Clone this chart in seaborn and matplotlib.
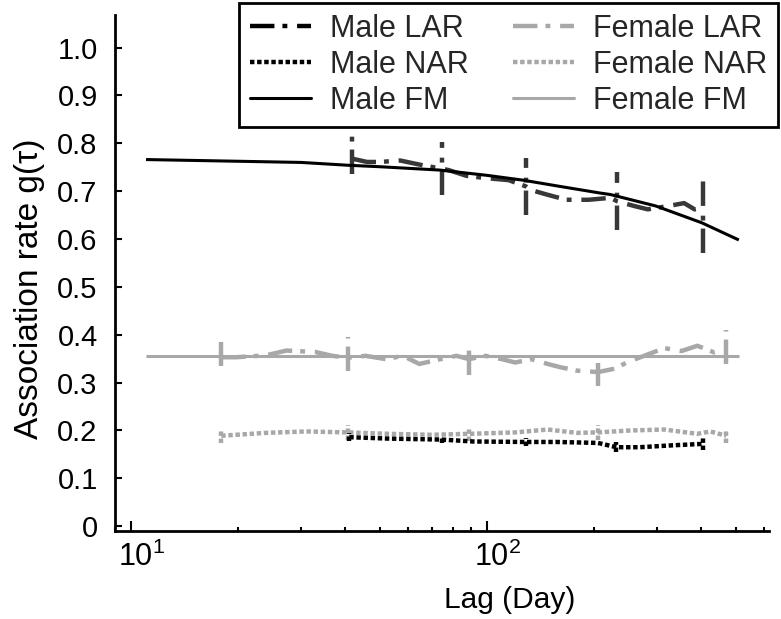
import numpy as np
import pandas as pd
import matplotlib
matplotlib.use("Agg")
import matplotlib.pyplot as plt
import matplotlib.transforms as mtransforms
import seaborn as sns
from matplotlib.lines import Line2D
from matplotlib.ticker import LogLocator, FixedLocator, FixedFormatter, NullFormatter

# ---------------- data ----------------
male_lar_lag = [41.7, 46, 50, 57, 66, 74.5, 78, 87.5, 100, 115, 128.5, 132, 147, 167,
                193, 222, 232, 259, 283, 323, 358, 383, 404]
male_lar_val = [0.768, 0.761, 0.761, 0.764, 0.754, 0.747, 0.744, 0.732, 0.727, 0.723,
                0.710, 0.703, 0.693, 0.682, 0.682, 0.686, 0.679, 0.669, 0.662, 0.669,
                0.675, 0.662, 0.665]
male_lar_err_lag = [41.7, 74.5, 128.5, 232, 404]
male_lar_err_val = [0.775, 0.747, 0.710, 0.679, 0.650]
male_lar_err = [0.040, 0.055, 0.060, 0.060, 0.080]

female_lar_lag = [17.9, 19.7, 23.9, 27.3, 32.9, 36.7, 40.6, 45.5, 52, 58, 64.5, 74, 82,
                  89, 99, 110, 120, 133, 148, 161, 179, 205, 228, 247, 283, 315, 352,
                  390, 435, 470]
female_lar_val = [0.353, 0.353, 0.357, 0.367, 0.364, 0.356, 0.352, 0.356, 0.349, 0.356,
                  0.339, 0.349, 0.356, 0.349, 0.356, 0.349, 0.342, 0.349, 0.339, 0.332,
                  0.325, 0.322, 0.329, 0.342, 0.359, 0.372, 0.366, 0.377, 0.363, 0.369]
female_lar_err_lag = [17.9, 40.6, 89, 205, 470]
female_lar_err_val = [0.360, 0.360, 0.345, 0.317, 0.374]
female_lar_err = [0.025, 0.035, 0.030, 0.025, 0.035]

male_nar_lag = [41, 53, 74.5, 91.5, 128.6, 157, 205, 231, 268, 332, 404]
male_nar_val = [0.186, 0.183, 0.181, 0.177, 0.176, 0.176, 0.174, 0.165, 0.165, 0.169, 0.172]
male_nar_err_lag = [41, 74.5, 128.6, 231, 404]
male_nar_err_val = [0.186, 0.181, 0.176, 0.165, 0.172]
male_nar_err = [0.008, 0.008, 0.008, 0.010, 0.012]

female_nar_lag = [17.9, 23.9, 31, 40.6, 53, 70, 89, 120, 148, 179, 205, 253, 315, 390, 424, 470]
female_nar_val = [0.189, 0.195, 0.198, 0.196, 0.193, 0.191, 0.193, 0.196, 0.202, 0.195,
                  0.196, 0.200, 0.202, 0.193, 0.198, 0.189]
female_nar_err_lag = [17.9, 40.6, 89, 205, 470]
female_nar_err_val = [0.189, 0.196, 0.193, 0.196, 0.189]
female_nar_err = [0.015, 0.015, 0.015, 0.015, 0.015]

male_fm_lag = [11, 18.2, 30, 40.9, 50, 73.7, 100, 126, 160, 208, 222, 298, 401, 510]
male_fm_val = [0.766, 0.763, 0.760, 0.754, 0.751, 0.744, 0.733, 0.723, 0.710, 0.696,
               0.693, 0.669, 0.634, 0.598]

female_fm_lag = [11, 510]
female_fm_val = [0.355, 0.355]

y_ticks = [0, 0.1, 0.2, 0.3, 0.4, 0.5, 0.6, 0.7, 0.8, 0.9, 1.0]
y_tick_labels = ["0", "0.1", "0.2", "0.3", "0.4", "0.5", "0.6", "0.7", "0.8", "0.9", "1.0"]
x_ticks = [10, 100]
x_tick_labels = ["$\\mathregular{10^1}$", "$\\mathregular{10^2}$"]
legend_labels = ["Male LAR", "Male NAR", "Male FM", "Female LAR", "Female NAR", "Female FM"]

# ---------------- style ----------------
sns.set_theme(style="white")
FONT = "Liberation Sans"
plt.rcParams["font.family"] = [FONT, "DejaVu Sans"]
plt.rcParams["mathtext.fontset"] = "custom"
plt.rcParams["mathtext.rm"] = FONT
plt.rcParams["mathtext.it"] = FONT + ":italic"

FS_YT, FS_XT, FS_XL, FS_YL, FS_LEG = 21, 22, 21.5, 24, 22

DARK = "#383838"
LIGHT = "#a8a8a8"
DASHDOT = (5.5, 1.8, 1.1, 2.2)
DOT = (1.0, 0.6)

W, H = 781, 619
fig = plt.figure(figsize=(W / 100, H / 100), dpi=100)
ax = fig.add_axes([115 / W, (H - 531) / H, (769 - 115) / W, (531 - 15) / H])

def line(x, y, color, lw, dashes=None):
    df = pd.DataFrame({"lag": x, "g": y})
    sns.lineplot(data=df, x="lag", y="g", ax=ax, color=color, linewidth=lw,
                 estimator=None, sort=True)
    ln = ax.lines[-1]
    if dashes is not None:
        ln.set_dashes(dashes)
    ln.set_dash_capstyle("butt")
    ln.set_solid_capstyle("butt")
    return ln

def bars(x, y, e, color, lw, dashes):
    for xi, yi, ei in zip(x, y, e):
        ln, = ax.plot([xi, xi], [yi - ei, yi + ei], color=color, linewidth=lw)
        if dashes is not None:
            ln.set_dashes(dashes)
        ln.set_dash_capstyle("butt")

line(female_fm_lag, female_fm_val, LIGHT, 2.2)
line(female_lar_lag, female_lar_val, LIGHT, 3.2, DASHDOT)
bars(female_lar_err_lag, female_lar_err_val, female_lar_err, LIGHT, 3.2, DASHDOT)
line(female_nar_lag, female_nar_val, LIGHT, 3.2, DOT)
bars(female_nar_err_lag, female_nar_err_val, female_nar_err, LIGHT, 3.2, DOT)

line(male_lar_lag, male_lar_val, DARK, 3.2, DASHDOT)
bars(male_lar_err_lag, male_lar_err_val, male_lar_err, DARK, 3.2, DASHDOT)
line(male_nar_lag, male_nar_val, "black", 3.2, DOT)
bars(male_nar_err_lag, male_nar_err_val, male_nar_err, "black", 3.2, DOT)
line(male_fm_lag, male_fm_val, "black", 2.2)

ax.set_xscale("log")
ax.set_xlim(9.0, 620)
ax.set_ylim(-0.01, 1.068)

ax.xaxis.set_major_locator(FixedLocator(x_ticks))
ax.xaxis.set_major_formatter(FixedFormatter(x_tick_labels))
ax.xaxis.set_minor_locator(LogLocator(base=10, subs=np.arange(2, 10)))
ax.xaxis.set_minor_formatter(NullFormatter())
ax.set_yticks(y_ticks)
ax.set_yticklabels(y_tick_labels)

for s in ["top", "right"]:
    ax.spines[s].set_visible(False)
for s in ["left", "bottom"]:
    ax.spines[s].set_color("black")
    ax.spines[s].set_linewidth(2.0)

ax.tick_params(axis="y", which="major", direction="in", length=5, width=1.5,
               labelsize=FS_YT, colors="black", pad=12.5, left=True)
ax.tick_params(axis="x", which="major", direction="in", length=7, width=1.5,
               labelsize=FS_XT, colors="black", pad=8, bottom=True)
ax.tick_params(axis="x", which="minor", direction="in", length=3, width=1.5,
               bottom=True, colors="black")

offset = mtransforms.ScaledTranslation(10 / 100, 0, fig.dpi_scale_trans)
for lab in ax.get_xticklabels():
    lab.set_transform(lab.get_transform() + offset)

ax.set_xlabel("Lag (Day)", fontsize=FS_XL, color="black")
ax.set_ylabel("Association rate g(\u03c4)", fontsize=FS_YL, color="black")
ax.xaxis.set_label_coords((510 - 115) / 654, -(600 - 531) / 516)
ax.yaxis.set_label_coords(-(115 - 30) / 654, (531 - 289) / 516)
ax.xaxis.label.set_va("center")
ax.yaxis.label.set_va("center")
ax.grid(False)

handles = [
    Line2D([], [], color="black", lw=3.2, dashes=DASHDOT, dash_capstyle="butt"),
    Line2D([], [], color="black", lw=3.2, dashes=DOT, dash_capstyle="butt"),
    Line2D([], [], color="black", lw=2.2),
    Line2D([], [], color=LIGHT, lw=3.2, dashes=DASHDOT, dash_capstyle="butt"),
    Line2D([], [], color=LIGHT, lw=3.2, dashes=DOT, dash_capstyle="butt"),
    Line2D([], [], color=LIGHT, lw=2.2),
]
em = FS_LEG * 100 / 72
leg = ax.legend(handles, legend_labels, ncol=2, loc="upper right",
                bbox_to_anchor=(778 / W, 1 - 3 / H), bbox_transform=fig.transFigure,
                fontsize=FS_LEG, frameon=True, fancybox=False, framealpha=1,
                edgecolor="black", borderpad=0.35, labelspacing=0.2,
                handlelength=61 / em, handletextpad=19 / em, columnspacing=1.45,
                borderaxespad=0)
leg.get_frame().set_linewidth(2.0)

fig.savefig("out.png", dpi=100)
